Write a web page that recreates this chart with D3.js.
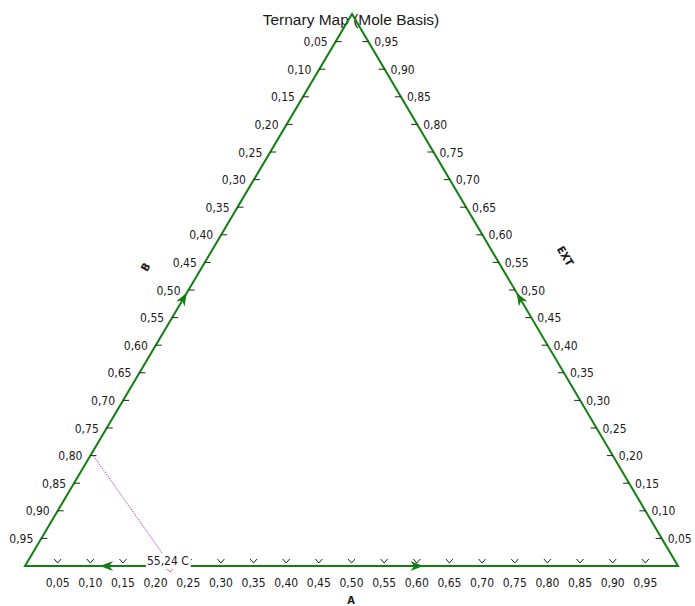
<!DOCTYPE html>
<html>
<head>
<meta charset="utf-8">
<script src="https://cdn.jsdelivr.net/npm/d3@7"></script>
<style>
  body { margin: 0; background: #fff; }
  text { font-family: "DejaVu Sans Condensed", "DejaVu Sans", sans-serif; fill: #1a1a1a; }
</style>
</head>
<body>
<div id="chart"></div>
<script>
// tick values along every edge
const ticks = [0.05, 0.10, 0.15, 0.20, 0.25, 0.30, 0.35, 0.40, 0.45, 0.50,
               0.55, 0.60, 0.65, 0.70, 0.75, 0.80, 0.85, 0.90, 0.95];
const axisNames = ["A", "B", "EXT"];
// arrow positions (fraction along edge) and direction
const bottomArrows = [{t: 0.115, dir: -1}, {t: 0.61, dir: 1}];
const sideArrows = [0.505];
// the one marked point
const markA = 0.222;
const markLabel = "55,24 C";
const tieStartB = 0.80;

const W = 695, H = 606;
const green = "#118011";
const fmt = v => v.toFixed(2).replace(".", ",");

const svg = d3.select("#chart").append("svg")
    .attr("width", W)
    .attr("height", H);

const apex = [352, 14], bl = [25, 566], br = [678, 566];

// bottom: A, 0 at left
const xA = d3.scaleLinear().domain([0, 1]).range([bl[0], br[0]]);
// left edge: B, 0 at top
const leftEdge = d3.scaleLinear().domain([0, 1]).range([apex, bl]);
// right edge: EXT, 0 at bottom
const rightEdge = d3.scaleLinear().domain([0, 1]).range([br, apex]);

svg.append("text")
    .attr("x", 351).attr("y", 25)
    .attr("text-anchor", "middle")
    .style("font-family", "'Liberation Sans', Arial, sans-serif")
    .style("font-size", "15.5px")
    .text("Ternary Map (Mole Basis)");

// triangle
svg.append("path")
    .attr("d", d3.line()([bl, apex, br, bl]) + "Z")
    .attr("fill", "none")
    .attr("stroke", green)
    .attr("stroke-width", 2);

// bottom ticks (small chevrons) + labels
const gB = svg.append("g");
gB.selectAll("path").data(ticks).join("path")
    .attr("d", d => { const x = xA(d), y = bl[1]; return `M${x - 3.5},${y - 7}L${x},${y - 3}L${x + 3.5},${y - 7}`; })
    .attr("fill", "none").attr("stroke", "#222").attr("stroke-width", 1);
gB.selectAll("text").data(ticks).join("text")
    .attr("x", d => xA(d)).attr("y", 587)
    .attr("text-anchor", "middle")
    .style("font-size", "12px")
    .text(fmt);

// left ticks + labels
const gL = svg.append("g");
gL.selectAll("line").data(ticks).join("line")
    .attr("x1", d => leftEdge(d)[0]).attr("x2", d => leftEdge(d)[0] + 6)
    .attr("y1", d => leftEdge(d)[1]).attr("y2", d => leftEdge(d)[1])
    .attr("stroke", "#222").attr("stroke-width", 1);
gL.selectAll("text").data(ticks).join("text")
    .attr("x", d => leftEdge(d)[0] - 8).attr("y", d => leftEdge(d)[1] + 4.5)
    .attr("text-anchor", "end")
    .style("font-size", "12px")
    .text(fmt);

// right ticks + labels
const gR = svg.append("g");
gR.selectAll("line").data(ticks).join("line")
    .attr("x1", d => rightEdge(d)[0] - 6).attr("x2", d => rightEdge(d)[0])
    .attr("y1", d => rightEdge(d)[1]).attr("y2", d => rightEdge(d)[1])
    .attr("stroke", "#222").attr("stroke-width", 1);
gR.selectAll("text").data(ticks).join("text")
    .attr("x", d => rightEdge(d)[0] + 6).attr("y", d => rightEdge(d)[1] + 4.5)
    .attr("text-anchor", "start")
    .style("font-size", "12px")
    .text(fmt);

// arrowheads
function arrow(p, angle) {
  svg.append("path")
      .attr("d", "M0,0L-13,-5L-9,0L-13,5Z")
      .attr("transform", `translate(${p[0]},${p[1]}) rotate(${angle})`)
      .attr("fill", green);
}
bottomArrows.forEach(a => arrow([xA(a.t), bl[1]], a.dir > 0 ? 0 : 180));
const edgeAng = Math.atan2(apex[1] - bl[1], apex[0] - bl[0]) * 180 / Math.PI;
const edgeAngR = Math.atan2(apex[1] - br[1], apex[0] - br[0]) * 180 / Math.PI;
sideArrows.forEach(t => {
  arrow(leftEdge(t), edgeAng);
  arrow(rightEdge(1 - t), edgeAngR);
});

// axis names
svg.append("text").attr("transform", `translate(351,604)`)
    .attr("text-anchor", "middle").style("font-size", "11px").style("font-weight", "bold")
    .text(axisNames[0]);
svg.append("text").attr("transform", `translate(149,269) rotate(${edgeAng})`)
    .attr("text-anchor", "middle").style("font-size", "11px").style("font-weight", "bold")
    .text(axisNames[1]);
svg.append("text").attr("transform", `translate(562,258) rotate(${edgeAngR + 180})`)
    .attr("text-anchor", "middle").style("font-size", "11px").style("font-weight", "bold")
    .text(axisNames[2]);

// tie line from left edge to the marked point's label
const mx = xA(markA), my = bl[1];
const p0 = leftEdge(tieStartB);
svg.append("line")
    .attr("x1", p0[0] + 3).attr("y1", p0[1])
    .attr("x2", mx - 8).attr("y2", my - 13)
    .attr("stroke", "#c040d0").attr("stroke-width", 1)
    .attr("stroke-dasharray", "1.5,1");

// marker chevron below the base line
svg.append("path")
    .attr("d", `M${mx - 4},${my + 2}L${mx},${my + 6}L${mx + 4},${my + 2}`)
    .attr("fill", "none").attr("stroke", "#ff6680").attr("stroke-width", 1);

// label with white box over the base line
const lbl = svg.append("g");
const lblText = lbl.append("text")
    .attr("x", mx - 23).attr("y", my - 1)
    .style("font-size", "12px")
    .text(markLabel);
const bb = lblText.node().getBBox();
lbl.insert("rect", "text")
    .attr("x", bb.x - 1).attr("y", bb.y)
    .attr("width", bb.width + 3).attr("height", bb.height + 1)
    .attr("fill", "#fff");
</script>
</body>
</html>
